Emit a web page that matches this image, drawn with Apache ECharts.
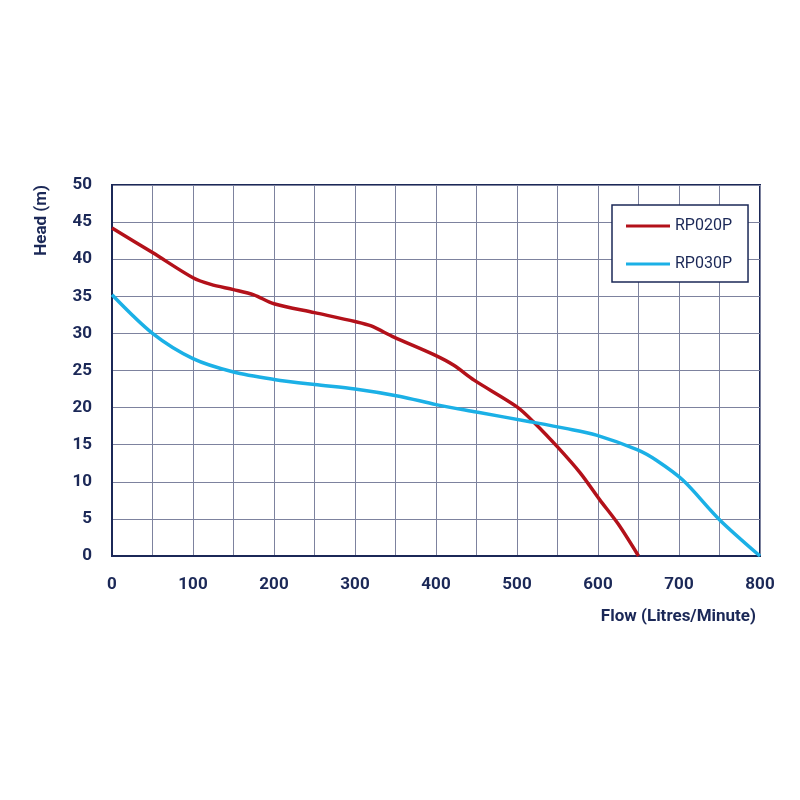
<!DOCTYPE html>
<html>
<head>
<meta charset="utf-8">
<script src="https://cdn.jsdelivr.net/npm/echarts@6/dist/echarts.min.js"></script>
<style>
  html, body { margin: 0; padding: 0; background: #fff; }
  #chart { width: 800px; height: 800px; }
</style>
</head>
<body>
<div id="chart"></div>
<script>
// pump curves: flow (L/min) vs head (m)
const seriesNames = ['RP020P', 'RP030P'];
const flowRed = [0, 50, 100, 122, 150, 175, 200, 250, 300, 320, 348, 398, 422, 447, 500, 522, 550, 578, 602, 625, 650];
const headRed = [44.2, 40.9, 37.5, 36.6, 35.9, 35.2, 34.0, 32.8, 31.6, 31.0, 29.5, 27.1, 25.7, 23.7, 20.1, 17.9, 14.7, 11.2, 7.6, 4.3, 0];
const flowBlue = [0, 50, 100, 150, 200, 250, 300, 356, 400, 450, 516, 560, 598, 649, 672, 705, 750, 800];
const headBlue = [35.2, 30.0, 26.6, 24.8, 23.8, 23.1, 22.5, 21.5, 20.4, 19.4, 18.1, 17.2, 16.3, 14.3, 12.9, 10.2, 4.9, 0];
const xTicks = [0, 800, 100];
const yTicks = [0, 50, 5];

const navy = '#1b2857';
const gridGrey = '#7d829e';

const chartDom = document.getElementById('chart');
const myChart = echarts.init(chartDom);

const pairs = (xs, ys) => xs.map((x, i) => [x, ys[i]]);

const option = {
  backgroundColor: '#fff',
  textStyle: { fontFamily: 'Roboto' },
  grid: {
    left: 112, right: 40, top: 185, bottom: 244,
    show: true, borderColor: navy, borderWidth: 2
  },
  legend: {
    orient: 'vertical',
    left: 612, top: 205,
    padding: [13, 16, 10, 14],
    itemGap: 22,
    icon: 'rect',
    itemWidth: 44, itemHeight: 3,
    borderColor: navy, borderWidth: 1.5,
    backgroundColor: '#fff',
    textStyle: { color: navy, fontSize: 16, fontFamily: 'Roboto' },
    data: seriesNames
  },
  xAxis: {
    type: 'value',
    min: xTicks[0], max: xTicks[1], interval: xTicks[2],
    name: 'Flow (Litres/Minute)',
    nameLocation: 'end',
    nameGap: 0,
    nameTextStyle: { color: navy, fontSize: 17, fontWeight: 'bold', align: 'right', verticalAlign: 'top', padding: [52, 4, 0, 0] },
    axisLine: { lineStyle: { color: navy, width: 2 } },
    axisTick: { show: false },
    axisLabel: { color: navy, fontSize: 17, fontWeight: 'bold', margin: 20 },
    splitLine: { show: true, lineStyle: { color: gridGrey, width: 1 } },
    minorTick: { show: false, splitNumber: 2 },
    minorSplitLine: { show: true, lineStyle: { color: gridGrey, width: 1 } }
  },
  yAxis: {
    type: 'value',
    min: yTicks[0], max: yTicks[1], interval: yTicks[2],
    name: 'Head (m)',
    nameLocation: 'end',
    nameRotate: 90,
    nameGap: 0,
    nameTextStyle: { color: navy, fontSize: 17, fontWeight: 'bold', align: 'right', verticalAlign: 'bottom', padding: [0, 0, 62, 0] },
    axisLine: { show: true, lineStyle: { color: navy, width: 2 } },
    axisTick: { show: false },
    axisLabel: { color: navy, fontSize: 17, fontWeight: 'bold', margin: 20 },
    splitLine: { show: true, lineStyle: { color: gridGrey, width: 1 } }
  },
  series: [
    {
      name: seriesNames[0],
      type: 'line',
      data: pairs(flowRed, headRed),
      smooth: 0.3,
      symbol: 'none',
      lineStyle: { color: '#b3111a', width: 3.5 },
      itemStyle: { color: '#b3111a' }
    },
    {
      name: seriesNames[1],
      type: 'line',
      data: pairs(flowBlue, headBlue),
      smooth: 0.3,
      symbol: 'none',
      lineStyle: { color: '#1bb0e6', width: 3.5 },
      itemStyle: { color: '#1bb0e6' }
    }
  ]
};

myChart.setOption(option);
</script>
</body>
</html>
